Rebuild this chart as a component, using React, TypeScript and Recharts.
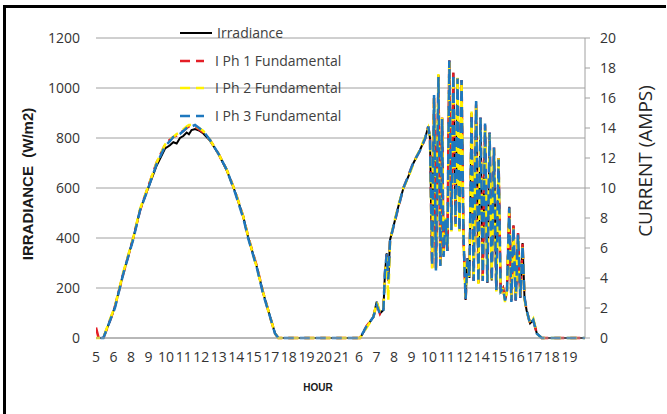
import { LineChart, Line, XAxis, YAxis, CartesianGrid } from 'recharts';

// ── Data ──────────────────────────────────────────────────────────────────────

// hour labels shown under the axis, one per label slot
const HOUR_LABELS = [
  '5', '6', '8', '9', '10', '11', '12', '13', '14', '15', '17', '18', '19', '20', '21',
  '6', '7', '8', '9', '10', '11', '12', '14', '15', '16', '17', '18', '19',
];

const IRR_TICKS = [0, 200, 400, 600, 800, 1000, 1200];
const AMP_TICKS = [0, 2, 4, 6, 8, 10, 12, 14, 16, 18, 20];

// sample position, in label slots
const SLOT = [
  // day 1
  0, 0.15, 0.42, 0.75, 1.08, 1.56, 2.13, 2.51, 2.98, 3.46, 3.94, 4.2, 4.41, 4.6, 4.79, 4.98, 5.17, 5.3,
  5.45, 5.65, 5.88, 6.12, 6.5, 6.98, 7.46, 7.93, 8.4, 8.69, 9.17, 9.54, 9.93, 10.21, 10.4, 12, 13.5, 15.06,
  // day 2 morning
  15.44, 15.82, 16.01, 16.2, 16.39, 16.48, 16.58, 16.67, 16.77, 16.96, 17.24, 17.53, 17.81, 18.1, 18.48, 18.77, 18.95,
  // cloudy midday
  19.05, 19.17, 19.28, 19.39, 19.53, 19.64, 19.74, 19.82, 19.94, 20.04,
  20.15, 20.27, 20.38, 20.51, 20.62, 20.73, 20.85, 20.96, 21.08, 21.19,
  21.3, 21.42, 21.54, 21.68, 21.81, 21.93, 22.06, 22.19, 22.32, 22.45,
  22.57, 22.7, 22.83, 22.96, 23.08, 23.22, 23.33, 23.44, 23.57, 23.69,
  23.81, 23.94, 24.07, 24.2, 24.33, 24.44,
  // evening
  24.56, 24.76, 24.94, 25.14, 25.42, 26.47, 27.89,
];

// W/m2
const IRRADIANCE = [
  0, 0, 0, 60, 125, 259, 400, 512, 600, 690, 758, 770, 783, 778, 800, 808, 822, 815,
  832, 836, 830, 818, 790, 737, 670, 585, 485, 400, 285, 179, 85, 19, 0, 0, 0, 0,
  45, 85, 145, 99, 112, 259, 339, 230, 392, 445, 525, 599, 645, 699, 752, 799, 845,
  800, 280, 970, 272, 1052, 290, 880, 330, 480, 350,
  1110, 430, 1060, 450, 1040, 430, 1030, 400, 152, 320,
  240, 900, 230, 945, 220, 880, 230, 850, 220, 820,
  230, 760, 190, 720, 180, 200, 150, 190, 525, 150,
  450, 150, 420, 160, 380, 160,
  110, 59, 72, 19, 0, 0, 0,
];

// amps
const PH1 = [
  0.7, 0, 0, 1.0, 2.1, 4.3, 6.7, 8.5, 10.1, 11.7, 12.9, 13.2, 13.4, 13.5, 13.7, 13.8, 14.0, 14.1,
  14.1, 14.1, 13.9, 13.7, 13.2, 12.3, 11.2, 9.8, 8.1, 6.7, 4.8, 3.0, 1.4, 0.3, 0, 0, 0, 0,
  0.8, 1.4, 2.3, 1.6, 1.9, 4.3, 5.6, 3.8, 6.5, 7.4, 8.7, 10.0, 10.8, 11.7, 12.5, 13.3, 14.1,
  13.3, 4.7, 16.2, 4.5, 17.5, 4.8, 14.7, 5.5, 8.0, 5.8,
  18.5, 7.2, 17.7, 7.5, 17.3, 7.2, 17.2, 6.7, 2.5, 5.3,
  4.0, 15.0, 3.8, 15.7, 3.7, 14.7, 3.8, 14.2, 3.7, 13.7,
  3.8, 12.7, 3.2, 12.0, 3.0, 3.3, 2.5, 3.2, 8.8, 2.5,
  7.5, 2.5, 7.0, 2.7, 6.3, 2.7,
  1.8, 1.0, 1.2, 0.3, 0, 0, 0,
];

const PH2 = [
  0, 0, 0, 1.1, 2.1, 4.4, 6.7, 8.6, 10.1, 11.7, 12.9, 13.2, 13.4, 13.6, 13.7, 13.9, 14.1, 14.2,
  14.2, 14.1, 14.0, 13.8, 13.2, 12.3, 11.2, 9.8, 8.1, 6.7, 4.7, 3.0, 1.4, 0.3, 0, 0, 0, 0,
  0.7, 1.4, 2.4, 1.7, 1.9, 4.2, 5.4, 2.5, 6.4, 7.5, 8.8, 10.0, 10.7, 11.6, 12.6, 13.4, 14.0,
  13.4, 4.6, 16.0, 4.6, 17.6, 4.9, 14.8, 5.6, 8.1, 5.9,
  18.4, 7.1, 17.5, 7.4, 17.4, 7.1, 17.1, 6.6, 2.7, 5.2,
  3.9, 15.1, 3.9, 15.6, 3.6, 14.6, 3.9, 14.1, 3.6, 13.6,
  3.9, 12.6, 3.1, 12.1, 3.0, 3.4, 2.4, 3.1, 8.6, 2.6,
  7.3, 2.6, 6.8, 2.8, 6.2, 2.6,
  1.8, 1.0, 1.3, 0.3, 0, 0, 0,
];

const PH3 = [
  0.1, 0, 0, 1.0, 2.0, 4.3, 6.6, 8.5, 10.0, 11.6, 12.8, 13.1, 13.4, 13.5, 13.6, 13.8, 14.0, 14.1,
  14.1, 14.2, 14.0, 13.8, 13.2, 12.3, 11.2, 9.7, 8.0, 6.6, 4.7, 2.9, 1.4, 0.3, 0, 0, 0, 0,
  0.8, 1.4, 2.2, 1.6, 1.8, 4.4, 5.6, 3.9, 6.5, 7.4, 8.7, 10.0, 10.8, 11.7, 12.5, 13.3, 14.1,
  13.3, 4.8, 16.2, 4.5, 17.4, 4.8, 14.6, 5.4, 7.9, 5.8,
  18.5, 7.2, 17.6, 7.6, 17.3, 7.1, 17.2, 6.8, 2.6, 5.3,
  4.1, 14.9, 3.8, 15.8, 3.7, 14.7, 3.8, 14.3, 3.7, 13.7,
  3.8, 12.7, 3.2, 11.9, 3.1, 3.3, 2.5, 3.2, 8.7, 2.4,
  7.4, 2.5, 6.9, 2.7, 6.2, 2.7,
  1.9, 0.9, 1.2, 0.3, 0, 0, 0,
];

const data = SLOT.map((slot, i) => ({
  slot,
  irr: IRRADIANCE[i],
  ph1: PH1[i],
  ph2: PH2[i],
  ph3: PH3[i],
}));

const PHASES = [
  { key: 'ph1', name: 'I Ph 1 Fundamental', color: '#E41E26', offset: 0 },
  { key: 'ph2', name: 'I Ph 2 Fundamental', color: '#FFF200', offset: 6 },
  { key: 'ph3', name: 'I Ph 3 Fundamental', color: '#1E78BE', offset: 11 },
];

const GRID = '#A0A0A0';
const TICK = { fontSize: 14, fontFamily: 'Open Sans', fill: '#333' };

// ── Legend + titles overlay ───────────────────────────────────────────────────

function Overlay() {
  const rows = [{ name: 'Irradiance', color: '#000', dashed: false }, ...PHASES.map((p) => ({ name: p.name, color: p.color, dashed: true }))];
  const rowY = [33, 61, 88, 116];
  return (
    <svg width={667} height={414} style={{ position: 'absolute', left: 0, top: 0, pointerEvents: 'none' }}>
      {rows.map((r, i) => (
        <g key={r.name}>
          <line
            x1={180} x2={r.dashed ? 204 : 212} y1={rowY[i]} y2={rowY[i]}
            stroke={r.color} strokeWidth={r.dashed ? 2.5 : 2}
            strokeDasharray={r.dashed ? '10 6' : undefined}
          />
          <text x={r.dashed ? 215 : 217} y={rowY[i] + 5} fontFamily="Open Sans" fontSize={14} fill="#404040">{r.name}</text>
        </g>
      ))}
      <text
        x={27} y={184} transform="rotate(-90 27 184)" textAnchor="middle" dominantBaseline="central"
        fontFamily="Liberation Sans" fontWeight="bold" fontSize={15} fill="#1a1a1a" style={{ whiteSpace: 'pre' }}
      >
        IRRADIANCE  (W/m2)
      </text>
      <text
        x={645} y={161} transform="rotate(-90 645 161)" textAnchor="middle" dominantBaseline="central"
        fontFamily="Open Sans" fontSize={19} fill="#262626"
      >
        CURRENT (AMPS)
      </text>
      <text x={318} y={391} textAnchor="middle" fontFamily="Liberation Sans" fontWeight="bold" fontSize={10} fill="#1a1a1a">HOUR</text>
    </svg>
  );
}

// ── Chart ─────────────────────────────────────────────────────────────────────

export default function App() {
  return (
    <div style={{ position: 'absolute', left: 0, top: 0, width: 667, height: 414, background: '#fff', overflow: 'hidden' }}>
      {/* frame: top and left edges only */}
      <div style={{ position: 'absolute', left: 3, top: 5, width: 660, height: 420, borderTop: '3px solid #000', borderLeft: '3px solid #000' }} />
      <LineChart width={667} height={414} data={data} margin={{ top: 38, right: 0, bottom: 26, left: 0 }}>
        <CartesianGrid yAxisId="left" vertical={false} stroke={GRID} />
        <XAxis
          dataKey="slot" type="number" domain={[0, 27.89]} allowDataOverflow
          ticks={HOUR_LABELS.map((_, i) => i)} interval={0}
          tickFormatter={(v) => HOUR_LABELS[v]}
          axisLine={{ stroke: GRID }} tickLine={false} tickSize={0} tickMargin={14}
          height={50} tick={TICK}
        />
        <YAxis
          yAxisId="left" domain={[0, 1200]} ticks={IRR_TICKS} interval={0}
          axisLine={false} tickLine={false} tickSize={0} tickMargin={16} width={96} tick={TICK}
        />
        <YAxis
          yAxisId="right" orientation="right" domain={[0, 20]} ticks={AMP_TICKS} interval={0}
          axisLine={{ stroke: GRID }} tickLine={{ stroke: GRID }} tickSize={5} tickMargin={10} width={82} tick={TICK}
        />
        <Line
          yAxisId="left" type="linear" dataKey="irr" name="Irradiance" stroke="#000" strokeWidth={2}
          dot={false} activeDot={false} isAnimationActive={false}
        />
        {PHASES.map((p) => (
          <Line
            key={p.key} yAxisId="right" type="linear" dataKey={p.key} name={p.name}
            stroke={p.color} strokeWidth={2.5} strokeDasharray="10 6" strokeDashoffset={p.offset}
            dot={false} activeDot={false} isAnimationActive={false}
          />
        ))}
      </LineChart>
      <Overlay />
    </div>
  );
}
